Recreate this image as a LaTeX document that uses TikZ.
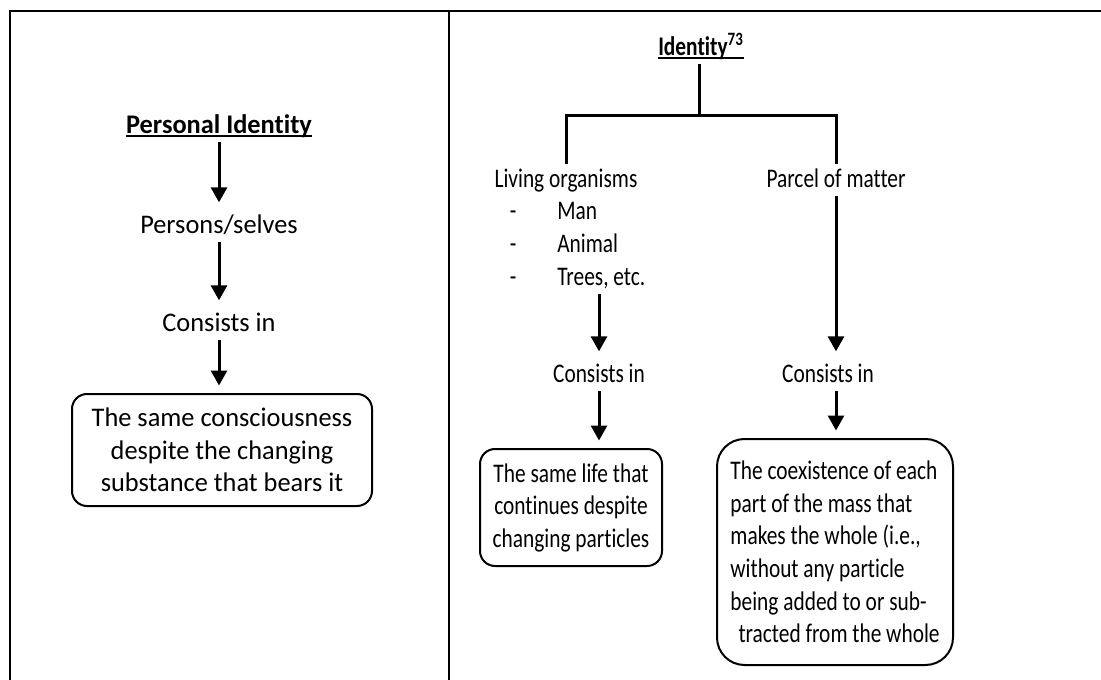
\documentclass[tikz,border=0pt]{standalone}
\usepackage{fontspec}
\setmainfont{Carlito}[Ligatures=NoCommon]
\newfontfamily\leftfont{Carlito}[FakeStretch=0.98, Ligatures=NoCommon]
\newfontfamily\rightfont{Carlito}[FakeStretch=0.795, Ligatures=NoCommon]
\usetikzlibrary{arrows.meta}

\newsavebox\ulbox
\newcommand{\ulined}[1]{\sbox\ulbox{#1}\rlap{\rule[-2.4pt]{\wd\ulbox}{1.5pt}}\usebox\ulbox}

\tikzset{
	txt/.style={inner sep=2pt, text height=11pt, text depth=3pt},
	rbox/.style={
		draw, line width=0.04cm,
		rounded corners=0.3cm,
		inner sep=2pt,
		align=center,
	},
	arr/.style={-{Triangle[width=0.32cm,length=0.3cm]}, line width=0.06cm, shorten >=0.15cm},
	link/.style={line width=0.06cm},
	frame/.style={line width=0.055cm}
}

\begin{document}
\begin{tikzpicture}
	\useasboundingbox (0,0) rectangle (22.02,-13.6);
	
	% table frame
	\draw[frame] (0.2,-13.6) -- (0.2,-0.22) -- (22.02,-0.22);
	\draw[frame] (8.98,-0.22) -- (8.98,-13.6);
	
	% left column
	\begin{scope}[font=\leftfont\fontsize{15.3pt}{18.5pt}\selectfont]
	\node[txt](PI) at (4.38,-2.52){\bfseries\ulined{Personal Identity}};
	\node[txt, below of=PI, node distance=2.0cm](PS){Persons/selves};
	\node[txt, below of=PS, node distance=1.96cm](CI1){Consists in};
	\node[rbox, below of=CI1, node distance=2.52cm, xshift=0.06cm, minimum width=6cm, minimum height=2.24cm](SC){The same consciousness\\despite the changing\\substance that bears it};
	
	\draw[arr] (PI) -- (PS);
	\draw[arr] (PS) -- (CI1);
	\draw[arr] (CI1) -- (CI1 |- SC.north);
	\end{scope}
	
	% right column
	\begin{scope}[font=\rightfont\fontsize{15.3pt}{18.5pt}\selectfont]
	\node[txt](ID) at (14.02,-0.96){\bfseries\ulined{Identity\textsuperscript{73}}};
	\coordinate (fork) at (13.98,-2.32);
	
	\node[txt](LO) at (11.32,-3.60){Living organisms};
	\node[txt, right of=LO, node distance=5.4cm](PM){Parcel of matter};
	
	\node[txt, anchor=west](man) at (10.12,-4.24){\makebox[0.95cm][l]{-}Man};
	\node[txt, anchor=west](animal) at (10.12,-4.90){\makebox[0.95cm][l]{-}Animal};
	\node[txt, anchor=west](trees) at (10.12,-5.56){\makebox[0.95cm][l]{-}Trees, etc.};
	
	\node[txt](CI2) at (11.98,-7.50){Consists in};
	\node[rbox, minimum width=3.64cm, minimum height=2.34cm](SL) at (11.42,-10.15){The same life that\\continues despite\\changing particles};
	
	\node[txt](CI3) at (16.56,-7.50){Consists in};
	\node[rbox, rounded corners=0.55cm, align=left, minimum width=4.72cm, minimum height=4.52cm](CE) at (16.70,-11.04){The coexistence of each\\part of the mass that\\makes the whole (i.e.,\\without any particle\\being added to or sub-\\\hspace*{0.3em}tracted from the whole};
	
	\draw[link] (fork |- ID.south) -- (fork);
	\draw[link] (LO.north) -- (LO.north |- fork) -- (PM.north |- fork) -- (PM.north);
	
	\draw[arr] (CI2.north |- trees.south) -- (CI2.north);
	\draw[arr] (CI2) -- (CI2 |- SL.north);
	\draw[arr] (PM) -- (PM |- CI3.north);
	\draw[arr] (PM |- CI3.south) -- (PM |- CE.north);
	\end{scope}
\end{tikzpicture}
\end{document}
